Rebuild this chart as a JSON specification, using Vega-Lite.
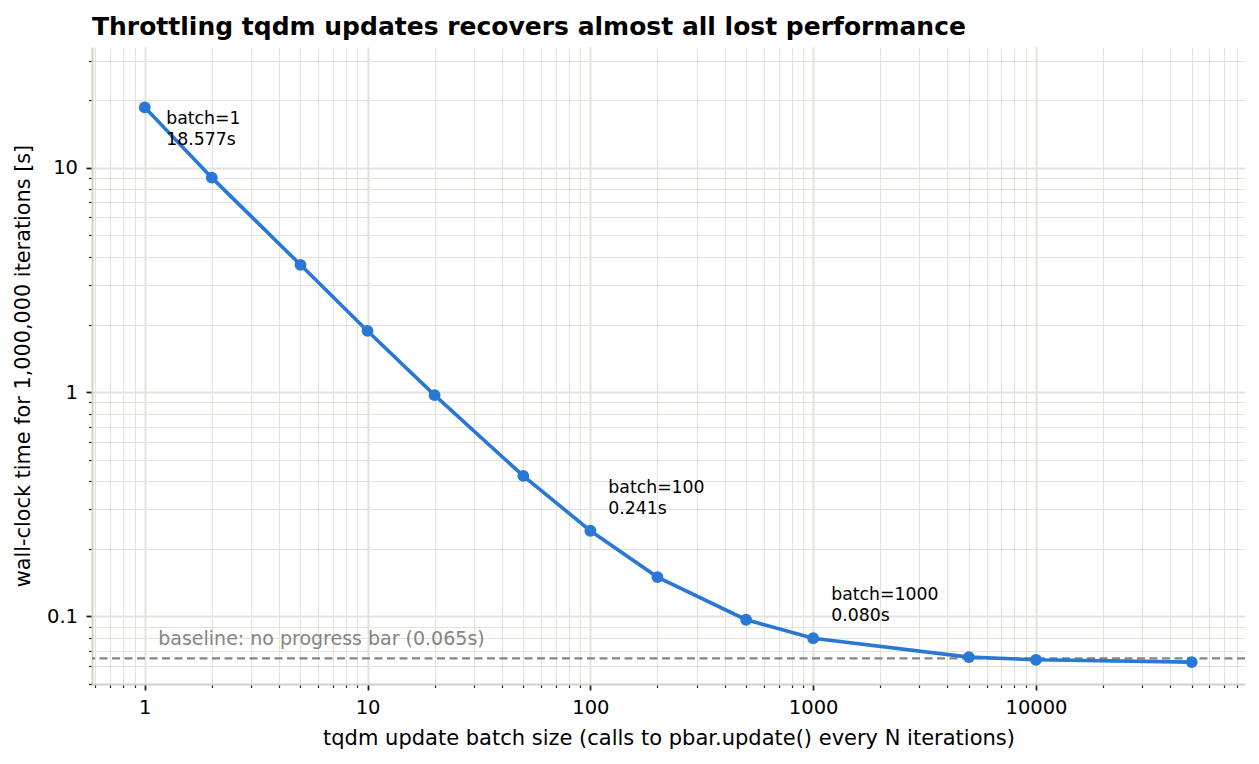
{
  "$schema": "https://vega.github.io/schema/vega-lite/v6.json",
  "width": 1153,
  "height": 637,
  "autosize": {"type": "none"},
  "padding": {"left": 92, "top": 47, "right": 14, "bottom": 80},
  "background": "white",
  "config": {
    "font": "DejaVu Sans",
    "view": {"stroke": null}
  },
  "title": {
    "text": "Throttling tqdm updates recovers almost all lost performance",
    "anchor": "start",
    "frame": "group",
    "font": "DejaVu Sans",
    "fontWeight": "bold",
    "fontSize": 25,
    "color": "#000000",
    "offset": 7
  },
  "datasets": {
    "timings": [
      {"batch": 1, "time": 18.577},
      {"batch": 2, "time": 9.03},
      {"batch": 5, "time": 3.69},
      {"batch": 10, "time": 1.873},
      {"batch": 20, "time": 0.969},
      {"batch": 50, "time": 0.423},
      {"batch": 100, "time": 0.241},
      {"batch": 200, "time": 0.1498},
      {"batch": 500, "time": 0.0967},
      {"batch": 1000, "time": 0.080},
      {"batch": 5000, "time": 0.0659},
      {"batch": 10000, "time": 0.0641},
      {"batch": 50000, "time": 0.0626}
    ],
    "baseline": [
      {"time": 0.065, "label": "baseline: no progress bar (0.065s)"}
    ]
  },
  "data": {"name": "timings"},
  "layer": [
    {
      "data": {"name": "baseline"},
      "mark": {"type": "rule", "color": "#858585", "strokeWidth": 2.2, "strokeDash": [8, 4.5]},
      "encoding": {
        "y": {"field": "time", "type": "quantitative", "scale": {"type": "log", "domain": [0.05, 34.5], "nice": false}}
      }
    },
    {
      "data": {"name": "baseline"},
      "mark": {"type": "text", "align": "left", "baseline": "alphabetic", "fontSize": 19, "color": "#85857e", "dy": -13.5},
      "encoding": {
        "x": {"datum": 1.15, "type": "quantitative"},
        "y": {"field": "time", "type": "quantitative"},
        "text": {"field": "label"}
      }
    },
    {
      "mark": {"type": "line", "color": "#2a78d6", "strokeWidth": 3.6},
      "encoding": {
        "x": {
          "field": "batch",
          "type": "quantitative",
          "scale": {"type": "log", "domain": [0.58, 86700], "nice": false},
          "axis": {
            "title": "tqdm update batch size (calls to pbar.update() every N iterations)",
            "values": [0.6, 0.7, 0.8, 0.9, 1, 2, 3, 4, 5, 6, 7, 8, 9, 10, 20, 30, 40, 50, 60, 70, 80, 90, 100, 200, 300, 400, 500, 600, 700, 800, 900, 1000, 2000, 3000, 4000, 5000, 6000, 7000, 8000, 9000, 10000, 20000, 30000, 40000, 50000, 60000, 70000, 80000],
            "labelExpr": "indexof([1, 10, 100, 1000, 10000], datum.value) >= 0 ? '' + datum.value : ''",
            "grid": true,
            "gridColor": "#e3e3dc",
            "gridWidth": {"condition": {"test": "indexof([1, 10, 100, 1000, 10000], datum.value) >= 0", "value": 2}, "value": 1},
            "tickSize": {"condition": {"test": "indexof([1, 10, 100, 1000, 10000], datum.value) >= 0", "value": 6}, "value": 3.5},
            "tickWidth": {"condition": {"test": "indexof([1, 10, 100, 1000, 10000], datum.value) >= 0", "value": 1.8}, "value": 1.2},
            "tickColor": "#222222",
            "domainColor": "#d2d2c8",
            "domainWidth": 2,
            "labelFontSize": 19.5,
            "labelColor": "#000000",
            "labelPadding": 8,
            "labelFlush": false,
            "labelOverlap": false,
            "titleFontSize": 21,
            "titleFontWeight": "normal",
            "titleColor": "#000000",
            "titlePadding": 11
          }
        },
        "y": {
          "field": "time",
          "type": "quantitative",
          "scale": {"type": "log", "domain": [0.05, 34.5], "nice": false},
          "axis": {
            "title": "wall-clock time for 1,000,000 iterations [s]",
            "values": [0.05, 0.06, 0.07, 0.08, 0.09, 0.1, 0.2, 0.3, 0.4, 0.5, 0.6, 0.7, 0.8, 0.9, 1, 2, 3, 4, 5, 6, 7, 8, 9, 10, 20, 30],
            "labelExpr": "indexof([0.1, 1, 10], datum.value) >= 0 ? '' + datum.value : ''",
            "grid": true,
            "gridColor": "#e3e3dc",
            "gridWidth": {"condition": {"test": "indexof([0.1, 1, 10], datum.value) >= 0", "value": 2}, "value": 1},
            "tickSize": {"condition": {"test": "indexof([0.1, 1, 10], datum.value) >= 0", "value": 6}, "value": 3.5},
            "tickWidth": {"condition": {"test": "indexof([0.1, 1, 10], datum.value) >= 0", "value": 1.8}, "value": 1.2},
            "tickColor": "#222222",
            "domainColor": "#d2d2c8",
            "domainWidth": 2,
            "labelFontSize": 19.5,
            "labelColor": "#000000",
            "labelPadding": 8.5,
            "labelFlush": false,
            "labelOverlap": false,
            "titleFontSize": 20.8,
            "titleFontWeight": "normal",
            "titleColor": "#000000",
            "titlePadding": 13
          }
        }
      }
    },
    {
      "mark": {"type": "circle", "color": "#2a78d6", "size": 140, "opacity": 1},
      "encoding": {
        "x": {"field": "batch", "type": "quantitative"},
        "y": {"field": "time", "type": "quantitative"}
      }
    },
    {
      "transform": [
        {"filter": "datum.batch == 1"},
        {"calculate": "'batch=' + datum.batch + '|' + format(datum.time, '.3f') + 's'", "as": "note"}
      ],
      "mark": {"type": "text", "align": "left", "baseline": "alphabetic", "fontSize": 17.3, "lineHeight": 21, "lineBreak": "|", "color": "#000000", "dx": 21.5, "dy": 16.8},
      "encoding": {
        "x": {"field": "batch", "type": "quantitative"},
        "y": {"field": "time", "type": "quantitative"},
        "text": {"field": "note"}
      }
    },
    {
      "transform": [
        {"filter": "datum.batch == 100 || datum.batch == 1000"},
        {"calculate": "'batch=' + datum.batch + '|' + format(datum.time, '.3f') + 's'", "as": "note"}
      ],
      "mark": {"type": "text", "align": "left", "baseline": "alphabetic", "fontSize": 17.3, "lineHeight": 21, "lineBreak": "|", "color": "#000000", "dx": 18, "dy": -38},
      "encoding": {
        "x": {"field": "batch", "type": "quantitative"},
        "y": {"field": "time", "type": "quantitative"},
        "text": {"field": "note"}
      }
    }
  ]
}
